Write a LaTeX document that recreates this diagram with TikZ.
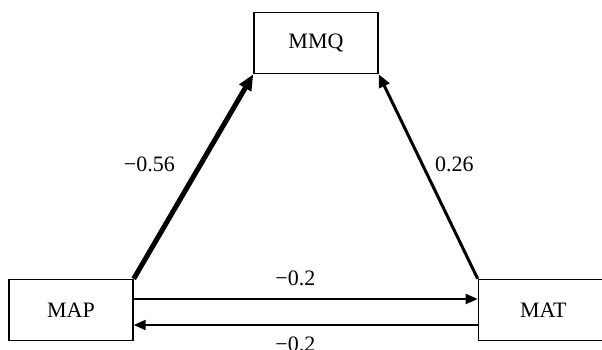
\documentclass[tikz,border=0pt]{standalone}
\usepackage{fontspec}
\setmainfont{Liberation Serif}
\usetikzlibrary{arrows.meta,positioning}

\begin{document}
\begin{tikzpicture}[
    x=1pt, y=1pt,
    node distance=344pt,
    block/.style={rectangle, draw, line width=1.4pt, minimum width=124pt,
                  minimum height=61pt, inner sep=0pt, font=\fontsize{22}{26}\selectfont},
    lbl/.style={font=\fontsize{22}{26}\selectfont},
    arrow/.style={-{Triangle[length=12pt, width=10pt]}, line width=2pt}
  ]
  \useasboundingbox (0,0) rectangle (602,350);

  % ---- Variables ----
  \node[block] (mmq) at (316,307) {MMQ};
  \node[block] (map) at (71,40) {MAP};
  \node[block, minimum width=130pt, right=of map] (mat) {MAT};

  % ---- Paths to MMQ ----
  \draw[arrow, line width=5pt, -{Triangle[length=16pt, width=13pt]}]
    (map.north east) -- node[lbl, pos=0.56, left=20pt] {−0.56} (mmq.south west);
  \draw[arrow, line width=3pt, -{Triangle[length=13pt, width=11pt]}]
    (mat.north west) -- node[lbl, pos=0.56, right=8pt] {0.26} (mmq.south east);

  % ---- Reciprocal paths ----
  \draw[arrow] ([yshift=11pt]map.east) -- node[lbl, pos=0.47, above=9pt] {−0.2} ([yshift=11pt]mat.west);
  \draw[arrow] ([yshift=-15pt]mat.west) -- node[lbl, pos=0.53, below=8pt] {−0.2} ([yshift=-15pt]map.east);
\end{tikzpicture}
\end{document}
